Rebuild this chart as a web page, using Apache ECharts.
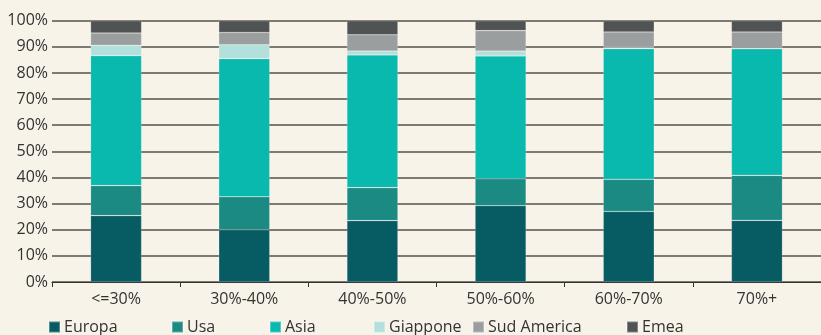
<!DOCTYPE html>
<html>
<head>
<meta charset="utf-8">
<script src="https://cdn.jsdelivr.net/npm/echarts@6/dist/echarts.min.js"></script>
<style>
  html, body { margin: 0; padding: 0; background: #f8f3e8; }
  #chart { width: 821px; height: 335px; }
</style>
</head>
<body>
<div id="chart"></div>
<script>
const categories = ["<=30%", "30%-40%", "40%-50%", "50%-60%", "60%-70%", "70%+"];
const europa      = [25.4, 20.0, 23.5, 29.2, 27.0, 23.6];
const usa         = [11.5, 12.6, 12.6, 10.3, 12.3, 17.2];
const asia        = [49.7, 52.9, 50.8, 47.0, 50.0, 48.5];
const giappone    = [4.0, 5.3, 1.5, 1.9, 0.5, 0.0];
const sudAmerica  = [4.7, 4.7, 6.2, 7.8, 5.9, 6.4];
const emea        = [4.7, 4.5, 5.4, 3.8, 4.3, 4.3];

const seriesDefs = [
  { name: "Europa", data: europa, color: "#075b63" },
  { name: "Usa", data: usa, color: "#1b8a83" },
  { name: "Asia", data: asia, color: "#09b9ae" },
  { name: "Giappone", data: giappone, color: "#b2e0dc" },
  { name: "Sud America", data: sudAmerica, color: "#9a9e9e" },
  { name: "Emea", data: emea, color: "#4f5354" }
];

// legend items sit at fixed spots, not evenly spaced
const legendLeft = [48, 171, 269, 373, 472, 626];
const font = "'Open Sans', 'Noto Sans', sans-serif";

const chart = echarts.init(document.getElementById("chart"));

chart.setOption({
  backgroundColor: "#f8f3e8",
  animation: false,
  textStyle: { fontFamily: font },
  grid: { left: 52, right: -6.5, top: 20.7, bottom: 53 },
  legend: seriesDefs.map((s, i) => ({
    data: [s.name],
    left: legendLeft[i],
    top: 319,
    padding: 0,
    itemWidth: 11,
    itemHeight: 11,
    itemGap: 0,
    icon: "rect",
    textStyle: { fontFamily: font, fontSize: 16, color: "#333", padding: [0, 0, 0, -1] }
  })),
  xAxis: {
    type: "category",
    data: categories,
    axisLine: { lineStyle: { color: "#333", width: 1.2 } },
    axisTick: { show: true, length: 5, alignWithLabel: false, lineStyle: { color: "#333" } },
    axisLabel: { fontFamily: font, fontSize: 16, color: "#333", margin: 9 }
  },
  yAxis: {
    type: "value",
    min: 0,
    max: 100,
    interval: 10,
    axisLine: { show: false },
    axisTick: { show: false },
    axisLabel: {
      fontFamily: font, fontSize: 16, color: "#333", margin: 4,
      formatter: v => v + "%"
    },
    splitLine: { lineStyle: { color: "#55514d", width: 1.5 } }
  },
  series: seriesDefs.map(s => ({
    name: s.name,
    type: "bar",
    stack: "total",
    barWidth: 51,
    data: s.data,
    itemStyle: { color: s.color, borderColor: "rgba(255,255,255,0.3)", borderWidth: 0.6 }
  }))
});

window.addEventListener("resize", () => chart.resize());
</script>
</body>
</html>
